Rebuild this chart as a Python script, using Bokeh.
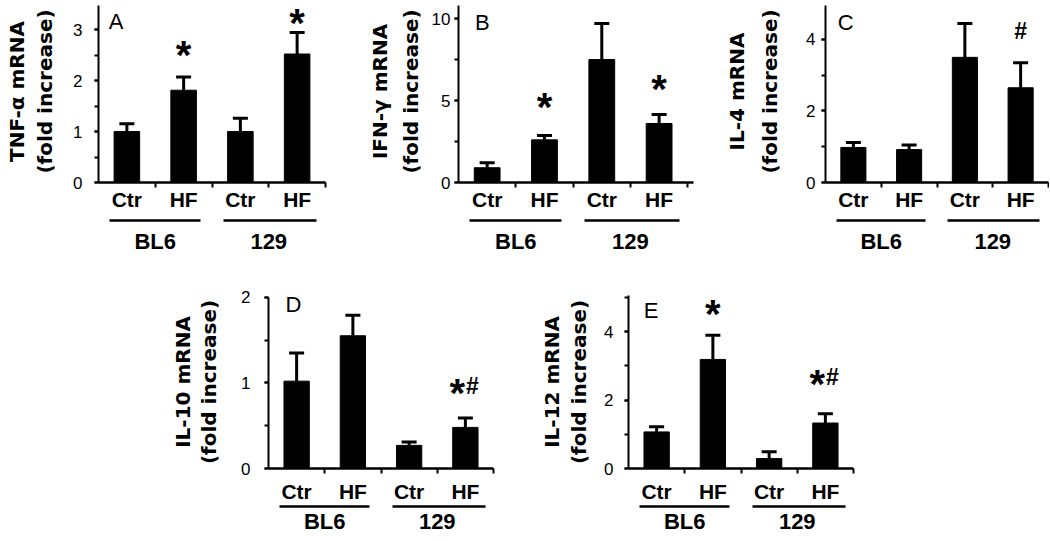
from bokeh.plotting import figure
from bokeh.models import (Range1d, LinearAxis, FixedTicker, SingleIntervalTicker,
                          ColumnDataSource, Whisker, TeeHead, Label, Spacer)
from bokeh.layouts import row, column
from bokeh.embed import file_html
from bokeh.resources import INLINE
from bokeh.core.properties import value

# ---------------- data ----------------
conditions = ["Ctr", "HF", "Ctr", "HF"]
groups = ["BL6", "129"]

tnf_mean = [1.0, 1.81, 1.0, 2.52]
tnf_sem = [0.15, 0.26, 0.26, 0.42]
tnf_star_x, tnf_star_y = [2, 4], [2.65, 3.28]
tnf_hash_x, tnf_hash_y = [], []

ifn_mean = [0.9, 2.6, 7.5, 3.6]
ifn_sem = [0.3, 0.27, 2.2, 0.55]
ifn_star_x, ifn_star_y = [2, 4], [5.1, 6.2]
ifn_hash_x, ifn_hash_y = [], []

il4_mean = [0.98, 0.92, 3.5, 2.65]
il4_sem = [0.14, 0.13, 0.95, 0.7]
il4_star_x, il4_star_y = [], []
il4_hash_x, il4_hash_y = [4], [4.27]

il10_mean = [1.02, 1.55, 0.27, 0.48]
il10_sem = [0.33, 0.24, 0.04, 0.11]
il10_star_x, il10_star_y = [4], [0.97]
il10_hash_x, il10_hash_y = [4], [0.97]

il12_mean = [1.07, 3.19, 0.29, 1.33]
il12_sem = [0.15, 0.71, 0.2, 0.27]
il12_star_x, il12_star_y = [2, 4], [4.75, 2.7]
il12_hash_x, il12_hash_y = [4], [2.7]

# ---------------- styling ----------------
TICK_FONT = "Liberation Sans"
CAT_FONT = "Liberation Sans"
YLAB_FONT = "DejaVu Sans"
BL6_SPAN = (0.7, 2.3)
S129_SPAN = (2.7, 4.35)


def panel(letter, name, mean, sem, star_x, star_y, hash_x, hash_y, *,
          width, height, mbl, mbr, mbt, mbb, x_end, y_end, y_axis_top,
          y_interval, tick_standoff, fold_standoff, name_standoff,
          letter_x, letter_y, x1_standoff, x2_standoff, spacer_px):
    p = figure(width=width, height=height, x_range=Range1d(0.5, x_end),
               y_range=Range1d(0, y_end), output_backend="svg",
               toolbar_location=None, min_border_left=mbl, min_border_right=mbr,
               min_border_top=mbt, min_border_bottom=mbb)
    p.outline_line_color = None
    p.grid.visible = False
    p.background_fill_color = "white"
    p.border_fill_color = "white"

    # y axis (ticks + "(fold increase)")
    ya = p.yaxis[0]
    ya.ticker = SingleIntervalTicker(interval=y_interval, num_minor_ticks=2)
    ya.bounds = (0, y_axis_top)
    ya.axis_line_width = 2
    ya.axis_line_color = "black"
    ya.major_tick_out = 4
    ya.major_tick_in = 0
    ya.minor_tick_out = 4
    ya.minor_tick_in = 0
    ya.major_tick_line_width = 2
    ya.minor_tick_line_width = 2
    ya.major_tick_line_color = "black"
    ya.minor_tick_line_color = "black"
    ya.major_label_text_font = TICK_FONT
    ya.major_label_text_font_size = "17px"
    ya.major_label_text_color = "black"
    ya.major_label_standoff = tick_standoff
    ya.axis_label = "(fold increase)"
    ya.axis_label_text_font = YLAB_FONT
    ya.axis_label_text_font_style = "bold"
    ya.axis_label_text_font_size = "20px"
    ya.axis_label_text_color = "black"
    ya.axis_label_standoff = fold_standoff

    outer = LinearAxis(ticker=FixedTicker(ticks=[]), axis_line_color=None,
                       major_tick_out=0, major_tick_in=0, minor_tick_out=0,
                       minor_tick_in=0, major_label_standoff=0,
                       axis_label=name, axis_label_standoff=name_standoff,
                       axis_label_text_font=YLAB_FONT,
                       axis_label_text_font_style="bold",
                       axis_label_text_font_size="20px",
                       axis_label_text_color="black")
    p.add_layout(outer, "left")

    # x axis: Ctr / HF
    xa = p.xaxis[0]
    xa.ticker = FixedTicker(ticks=[1, 2, 3, 4], minor_ticks=[1.5, 2.5, 3.5, 4.5])
    xa.major_label_overrides = {i + 1: c for i, c in enumerate(conditions)}
    xa.major_tick_out = 0
    xa.major_tick_in = 0
    xa.minor_tick_out = 5
    xa.minor_tick_in = 0
    xa.minor_tick_line_width = 2
    xa.minor_tick_line_color = "black"
    xa.axis_line_width = 2.5
    xa.axis_line_color = "black"
    xa.major_label_text_font = CAT_FONT
    xa.major_label_text_font_style = "bold"
    xa.major_label_text_font_size = "21px"
    xa.major_label_text_color = "black"
    xa.major_label_standoff = x1_standoff

    # spacer axis (invisible, only adds room above the group underline)
    sp = LinearAxis(ticker=FixedTicker(ticks=[2.5]),
                    major_label_overrides={2.5: ""}, axis_line_color=None,
                    major_tick_out=spacer_px, major_tick_in=0,
                    major_tick_line_color=None, minor_tick_out=0,
                    minor_tick_in=0, minor_tick_line_color=None,
                    major_label_standoff=0)
    p.add_layout(sp, "below")

    # group axis: BL6 / 129 with underlines
    frame_w = width - mbl - mbr
    ppu = frame_w / (x_end - 0.5)
    l1 = round((BL6_SPAN[1] - BL6_SPAN[0]) * ppu)
    gap = round((S129_SPAN[0] - BL6_SPAN[1]) * ppu)
    l2 = round((S129_SPAN[1] - S129_SPAN[0]) * ppu)
    ga = LinearAxis(ticker=FixedTicker(ticks=[1.5, 3.5]),
                    major_label_overrides={1.5: groups[0], 3.5: groups[1]},
                    bounds=(BL6_SPAN[0], S129_SPAN[1]),
                    axis_line_width=2.5, axis_line_color="black",
                    axis_line_dash=f"{l1} {gap} {l2} 1000",
                    major_tick_out=0, major_tick_in=0, minor_tick_out=0,
                    minor_tick_in=0, major_label_standoff=x2_standoff,
                    major_label_text_font=CAT_FONT,
                    major_label_text_font_style="bold",
                    major_label_text_font_size="22px",
                    major_label_text_color="black")
    p.add_layout(ga, "below")

    # bars + error bars
    src = ColumnDataSource(dict(x=[1, 2, 3, 4], top=mean,
                                upper=[m + s for m, s in zip(mean, sem)]))
    p.vbar(x="x", top="top", width=0.45, source=src,
           fill_color="black", line_color="black")
    p.add_layout(Whisker(source=src, base="x", lower="top", upper="upper",
                         dimension="height", line_width=3, line_color="black",
                         lower_head=None,
                         upper_head=TeeHead(size=15, line_width=3,
                                            line_color="black")))

    # significance marks
    s_off = [-8 if x in hash_x else 0 for x in star_x]
    h_off = [7 if x in star_x else 0 for x in hash_x]
    p.text(x=star_x, y=star_y, text=["*"] * len(star_x), x_offset=s_off,
           y_offset=8, text_font=value(CAT_FONT), text_font_style="bold",
           text_font_size="40px", text_align="center", text_baseline="middle",
           text_color="black")
    p.text(x=hash_x, y=hash_y, text=["#"] * len(hash_x), x_offset=h_off,
           y_offset=1, text_font=value(CAT_FONT), text_font_style="bold",
           text_font_size="23px", text_align="center", text_baseline="middle",
           text_color="black")

    p.add_layout(Label(x=letter_x, y=letter_y, text=letter,
                       text_font=TICK_FONT, text_font_size="22px",
                       text_baseline="top", text_align="left",
                       text_color="black"))
    return p


TOP_H, BOT_H = 260, 280
top_kw = dict(height=TOP_H, mbt=0, mbb=78, x1_standoff=0, x2_standoff=8,
              spacer_px=7)
bot_kw = dict(height=BOT_H, mbt=35, mbb=72, x1_standoff=6, x2_standoff=2,
              spacer_px=1)

pA = panel("A", "TNF-\u03b1 mRNA", tnf_mean, tnf_sem, tnf_star_x, tnf_star_y,
           tnf_hash_x, tnf_hash_y, width=340, mbl=98, mbr=15, x_end=4.5,
           y_end=3.57, y_axis_top=3.47, y_interval=1, tick_standoff=12,
           fold_standoff=13, name_standoff=2, letter_x=0.68, letter_y=3.41,
           **top_kw)
pB = panel("B", "IFN-\u03b3 mRNA", ifn_mean, ifn_sem, ifn_star_x, ifn_star_y,
           ifn_hash_x, ifn_hash_y, width=360, mbl=118, mbr=7, x_end=4.6,
           y_end=11.1, y_axis_top=10.8, y_interval=5, tick_standoff=4,
           fold_standoff=6, name_standoff=4, letter_x=0.79, letter_y=10.5,
           **top_kw)
pC = panel("C", "IL-4 mRNA", il4_mean, il4_sem, il4_star_x, il4_star_y,
           il4_hash_x, il4_hash_y, width=349, mbl=125, mbr=1, x_end=4.5,
           y_end=5.09, y_axis_top=4.95, y_interval=2, tick_standoff=6,
           fold_standoff=21, name_standoff=7, letter_x=0.72, letter_y=4.83,
           **top_kw)
pD = panel("D", "IL-10 mRNA", il10_mean, il10_sem, il10_star_x, il10_star_y,
           il10_hash_x, il10_hash_y, width=360, mbl=118, mbr=17, x_end=4.5,
           y_end=2.02, y_axis_top=2.0, y_interval=1, tick_standoff=14,
           fold_standoff=17, name_standoff=0, letter_x=0.8, letter_y=2.06,
           **bot_kw)
pE = panel("E", "IL-12 mRNA", il12_mean, il12_sem, il12_star_x, il12_star_y,
           il12_hash_x, il12_hash_y, width=360, mbl=118, mbr=17, x_end=4.5,
           y_end=5.06, y_axis_top=5.05, y_interval=2, tick_standoff=11,
           fold_standoff=10, name_standoff=1, letter_x=0.77, letter_y=4.98,
           **bot_kw)

layout = column(row(pA, pB, pC),
                row(Spacer(width=150, height=BOT_H), pD, pE))

open("out.html", "w").write(file_html(layout, INLINE, "cytokine mRNA"))
